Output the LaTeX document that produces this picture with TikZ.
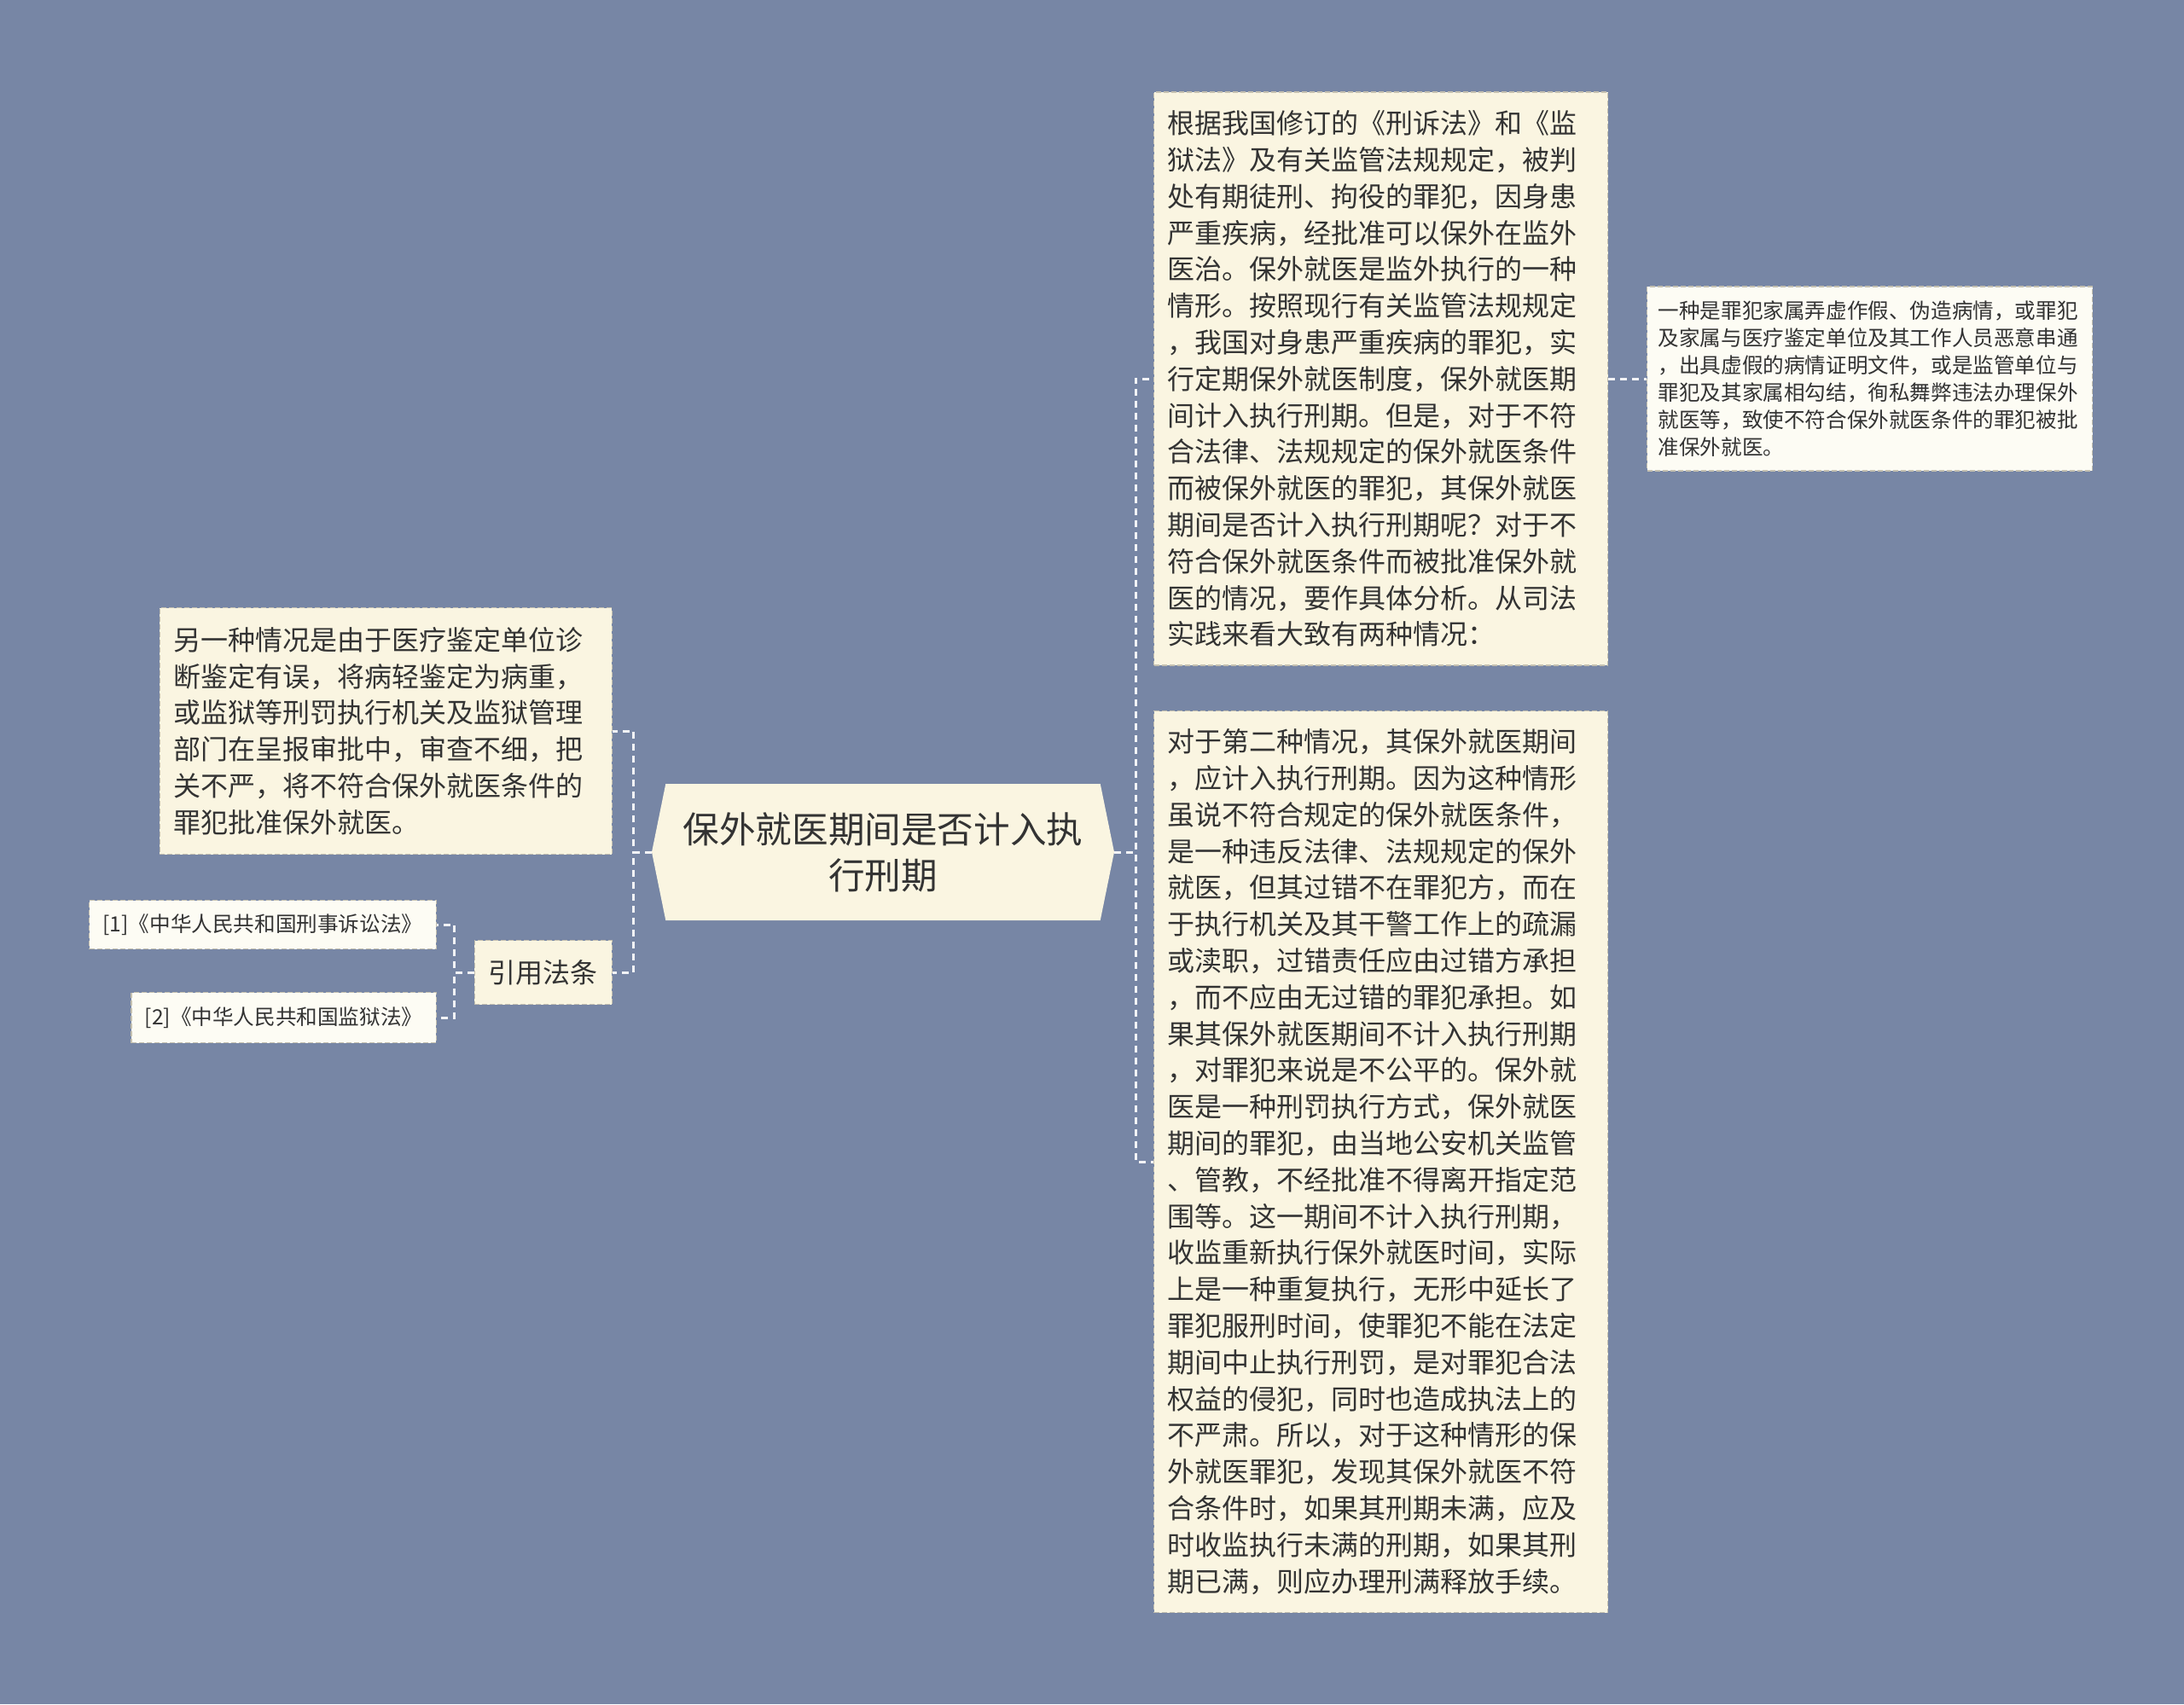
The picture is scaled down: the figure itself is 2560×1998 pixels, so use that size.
\documentclass[tikz,border=0pt]{standalone}
\usepackage{fontspec}
\setmainfont{Noto Sans CJK SC}
\usetikzlibrary{shapes.symbols}
\definecolor{bgblue}{HTML}{7786A5}
\definecolor{cream}{HTML}{FAF5E1}
\definecolor{paper}{HTML}{FDFCF4}
\definecolor{ink}{HTML}{333333}
\definecolor{rim}{HTML}{C4C0B0}
\definecolor{wirecol}{HTML}{F2F3F6}

\begin{document}
\begin{tikzpicture}[x=0.5pt,y=-0.5pt,
    box/.style={draw=rim,line width=0.7pt,dash pattern=on 3pt off 1.5pt,fill=cream,text=ink,align=left,inner xsep=8pt,inner ysep=0pt,font=\fontsize{16pt}{21.4pt}\selectfont},
    small/.style={box,fill=paper,font=\fontsize{12.3pt}{16pt}\selectfont},
    wire/.style={draw=wirecol,line width=1.5pt,dash pattern=on 4pt off 3pt}]
    \fill[bgblue] (0,0) rectangle (2560,1998);
    \node (root) at (1035,999) [signal,signal to=east and west,signal pointer angle=157,fill=cream,text=ink,align=center,minimum width=271pt,minimum height=80pt,inner sep=0pt,font=\fontsize{21.3pt}{27pt}\selectfont] {保外就医期间是否计入执\\行刑期};
    \node (box1) at (1352,444) [box,anchor=west,text width=250pt,minimum height=336pt] {根据我国修订的《刑诉法》和《监\\狱法》及有关监管法规规定，被判\\处有期徒刑、拘役的罪犯，因身患\\严重疾病，经批准可以保外在监外\\医治。保外就医是监外执行的一种\\情形。按照现行有关监管法规规定\\，我国对身患严重疾病的罪犯，实\\行定期保外就医制度，保外就医期\\间计入执行刑期。但是，对于不符\\合法律、法规规定的保外就医条件\\而被保外就医的罪犯，其保外就医\\期间是否计入执行刑期呢？对于不\\符合保外就医条件而被批准保外就\\医的情况，要作具体分析。从司法\\实践来看大致有两种情况：};
    \node (far) at (1930,444) [small,anchor=west,text width=248pt,inner xsep=6.5pt,minimum height=108pt] {一种是罪犯家属弄虚作假、伪造病情，或罪犯\\及家属与医疗鉴定单位及其工作人员恶意串通\\，出具虚假的病情证明文件，或是监管单位与\\罪犯及其家属相勾结，徇私舞弊违法办理保外\\就医等，致使不符合保外就医条件的罪犯被批\\准保外就医。};
    \node (box2) at (1352,1362) [box,anchor=west,text width=250pt,minimum height=528.5pt] {对于第二种情况，其保外就医期间\\，应计入执行刑期。因为这种情形\\虽说不符合规定的保外就医条件，\\是一种违反法律、法规规定的保外\\就医，但其过错不在罪犯方，而在\\于执行机关及其干警工作上的疏漏\\或渎职，过错责任应由过错方承担\\，而不应由无过错的罪犯承担。如\\果其保外就医期间不计入执行刑期\\，对罪犯来说是不公平的。保外就\\医是一种刑罚执行方式，保外就医\\期间的罪犯，由当地公安机关监管\\、管教，不经批准不得离开指定范\\围等。这一期间不计入执行刑期，\\收监重新执行保外就医时间，实际\\上是一种重复执行，无形中延长了\\罪犯服刑时间，使罪犯不能在法定\\期间中止执行刑罚，是对罪犯合法\\权益的侵犯，同时也造成执法上的\\不严肃。所以，对于这种情形的保\\外就医罪犯，发现其保外就医不符\\合条件时，如果其刑期未满，应及\\时收监执行未满的刑期，如果其刑\\期已满，则应办理刑满释放手续。};
    \node (other) at (718,857) [box,anchor=east,text width=249pt,minimum height=144.5pt] {另一种情况是由于医疗鉴定单位诊\\断鉴定有误，将病轻鉴定为病重，\\或监狱等刑罚执行机关及监狱管理\\部门在呈报审批中，审查不细，把\\关不严，将不符合保外就医条件的\\罪犯批准保外就医。};
    \node (cite) at (718,1140) [box,anchor=east,align=center,minimum width=80.5pt,minimum height=37.5pt] {引用法条};
    \node (ref1) at (512,1084) [small,anchor=east,minimum height=28.5pt] {[1]《中华人民共和国刑事诉讼法》};
    \node (ref2) at (512,1193) [small,anchor=east,minimum height=29.5pt] {[2]《中华人民共和国监狱法》};
    \draw[wire] (root.east) -- ++(25,0) |- (box1.west);
    \draw[wire] (root.east) -- ++(25,0) |- (box2.west);
    \draw[wire] (box1.east) -- (far.west);
    \draw[wire] (root.west) -- ++(-21,0) |- (other.east);
    \draw[wire] (root.west) -- ++(-21,0) |- (cite.east);
    \draw[wire] (cite.west) -- ++(-23,0) |- (ref1.east);
    \draw[wire] (cite.west) -- ++(-23,0) |- (ref2.east);
\end{tikzpicture}
\end{document}
